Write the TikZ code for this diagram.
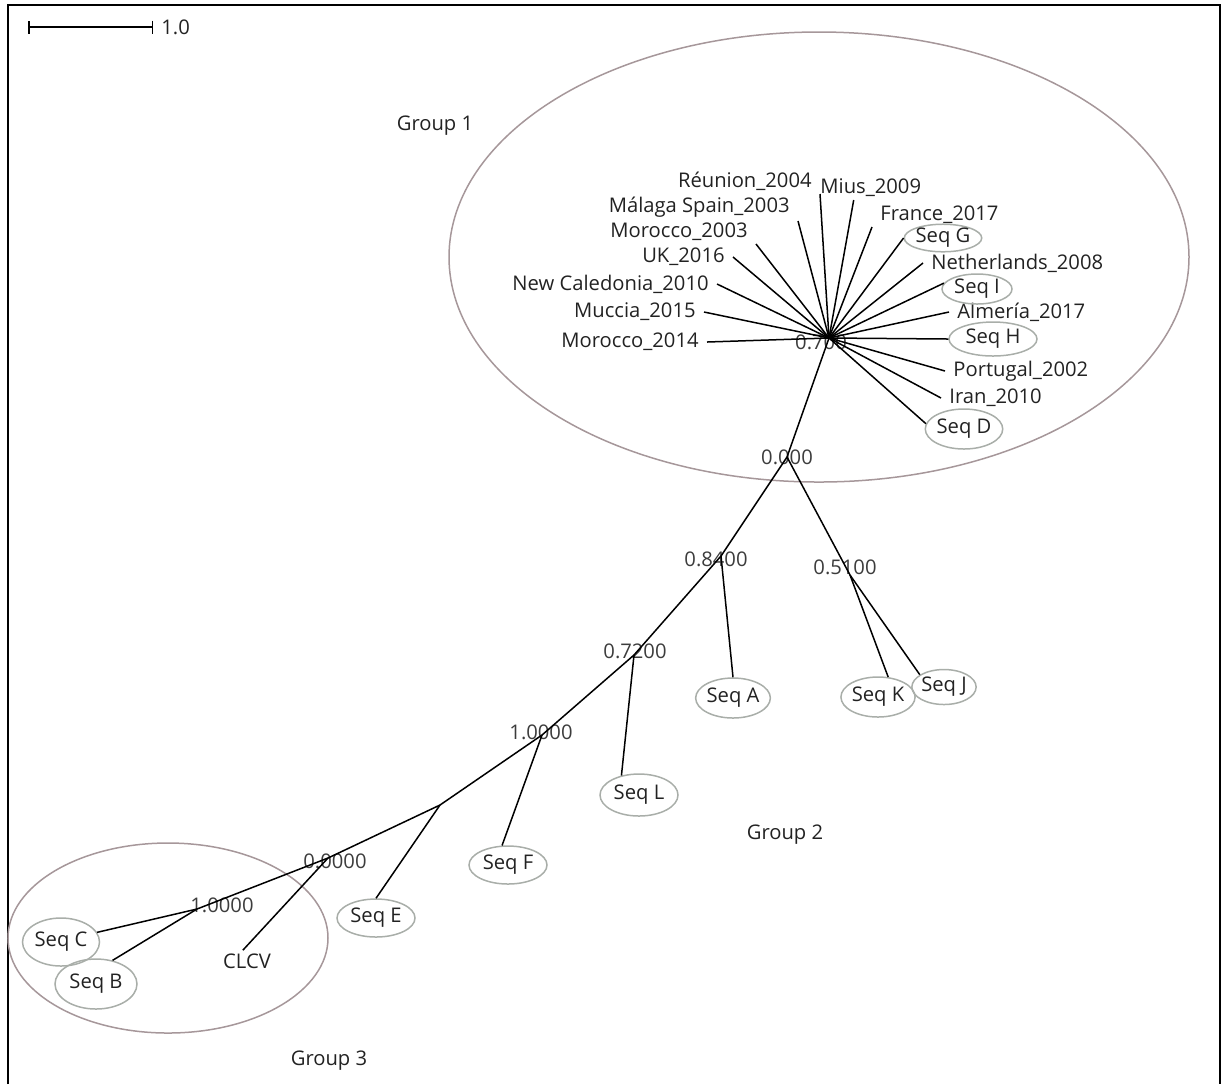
\documentclass[tikz,border=0pt]{standalone}
\usepackage{fontspec}
\setmainfont{Open Sans}
\usetikzlibrary{arrows.meta, shapes.geometric}
\definecolor{grpline}{HTML}{A6979A}
\definecolor{seqline}{HTML}{A9AEA9}
\definecolor{inktext}{HTML}{222222}
\definecolor{boottext}{HTML}{3C3C3C}

\begin{document}
\begin{tikzpicture}[
  x=0.5pt, y=-0.5pt,
  font=\fontsize{10.1}{12}\selectfont,
  branch/.style={black, line width=0.75pt},
  leaf/.style={text=inktext, inner xsep=4pt, inner ysep=1.5pt},
  sq/.style={ellipse, draw=seqline, line width=0.75pt, text=inktext,
    inner sep=0pt, minimum width=37pt, minimum height=20pt},
  boot/.style={text=boottext, inner sep=0pt},
  grp/.style={text=inktext},
]

\useasboundingbox (0,0) rectangle (1224,1084);

% Frame
\draw[line width=1pt] (8,1084) -- (8,5) -- (1220,5) -- (1220,1084);

% Scale bar
\coordinate (barL) at (28,27);
\coordinate (barR) at (153,27);
\draw[{Bar[width=6.5pt]}-{Bar[width=6.5pt]}, line width=0.75pt] (barL) -- (barR);
\node[leaf, anchor=west, inner xsep=1pt] (scale) at (159,27) {1.0};

% === Groups ===
\draw[grpline, line width=0.75pt] (819,257) ellipse [x radius=185pt, y radius=112.5pt];
\draw[grpline, line width=0.75pt] (168,938) ellipse [x radius=80pt, y radius=47.5pt];
\node[grp] (g1) at (435,126) {Group 1};
\node[grp] (g2) at (785,835) {Group 2};
\node[grp] (g3) at (329,1061) {Group 3};

% === Inner junctions ===
\coordinate (hub) at (829,338);
\coordinate (n0)  at (787,457);
\coordinate (n51) at (850,575);
\coordinate (n84) at (721,556);
\coordinate (n72) at (634,655);
\coordinate (n10) at (542,735);
\coordinate (nE)  at (440,805);
\coordinate (n00) at (328,858);
\coordinate (n1)  at (197,909);

% Support values
\node[boot] (b700) at (821,342) {0.700};
\node[boot] (b000) at (787,457) {0.000};
\node[boot] (b510) at (845,567) {0.5100};
\node[boot] (b840) at (716,559) {0.8400};
\node[boot] (b720) at (635,651) {0.7200};
\node[boot] (b100) at (541,732) {1.0000};
\node[boot] (b00b) at (335,861) {0.0000};
\node[boot] (b10b) at (222,905) {1.0000};

% === Leaves of group 1 ===
\node[leaf, anchor=east] (m14) at (707,342) {Morocco\_2014};
\node[leaf, anchor=east] (mu15) at (704,312) {Muccia\_2015};
\node[leaf, anchor=east] (nc10) at (717,284) {New Caledonia\_2010};
\node[leaf, anchor=east] (uk16) at (733,257) {UK\_2016};
\node[leaf, anchor=south east] (m03) at (756,244) {Morocco\_2003};
\node[leaf, anchor=south east] (mal03) at (798,221) {Málaga Spain\_2003};
\node[leaf, anchor=south east] (reu04) at (820,194) {Réunion\_2004};
\node[leaf, anchor=south west] (mius09) at (812,200) {Mius\_2009};
\node[leaf, anchor=south west] (fr17) at (872,227) {France\_2017};
\node[leaf, anchor=west] (nl08) at (923,263) {Netherlands\_2008};
\node[leaf, anchor=west] (alm17) at (949,312) {Almería\_2017};
\node[leaf, anchor=west] (pt02) at (945,371) {Portugal\_2002};
\node[leaf, anchor=west] (ir10) at (941,398) {Iran\_2010};

\node[sq, minimum width=35pt, minimum height=13pt] (sqG) at (943,238) {Seq G};
\node[sq, minimum width=35pt, minimum height=15pt] (sqI) at (977,289) {Seq I};
\node[sq, minimum width=44pt, minimum height=17pt] (sqH) at (993,339) {Seq H};
\node[sq] (sqD) at (964,429) {Seq D};

% === Leaves of groups 2 and 3 ===
\node[sq] (sqA) at (733,698) {Seq A};
\node[sq] (sqK) at (878,697) {Seq K};
\node[sq, minimum width=32pt, minimum height=17.5pt] (sqJ) at (944,687) {Seq J};
\node[sq, minimum width=39pt, minimum height=21pt] (sqL) at (639,795) {Seq L};
\node[sq, minimum width=39pt, minimum height=19pt] (sqF) at (508,865) {Seq F};
\node[sq, minimum width=39pt, minimum height=19pt] (sqE) at (376,918) {Seq E};
\node[sq, minimum width=38.5pt, minimum height=24pt] (sqC) at (61,942) {Seq C};
\node[sq, minimum width=41pt, minimum height=25pt] (sqB) at (96,984) {Seq B};
\node[leaf] (clcv) at (247,961) {CLCV};

% === Branches ===
\foreach \t in {m14.east, mu15.east, nc10.east, uk16.east, m03.south east,
    mal03.south east, reu04.south east, mius09.216, fr17.south west, sqG.west,
    nl08.west, sqI.170, alm17.west, sqH.west, pt02.west, ir10.west, sqD.172}
  \draw[branch] (hub) -- (\t);

\draw[branch] (hub) -- (n0) -- (n84) -- (n72) -- (n10) -- (nE) -- (n00) -- (n1);
\draw[branch] (n0) -- (n51);
\draw[branch] (n51) -- (sqK.63);
\draw[branch] (n51) -- (sqJ.153);
\draw[branch] (n84) -- (sqA.north);
\draw[branch] (n72) -- (sqL.132);
\draw[branch] (n10) -- (sqF.107);
\draw[branch] (nE) -- (sqE.north);
\draw[branch] (n00) -- (clcv.111);
\draw[branch] (n1) -- (sqC.15);
\draw[branch] (n1) -- (sqB.55);

\end{tikzpicture}
\end{document}
